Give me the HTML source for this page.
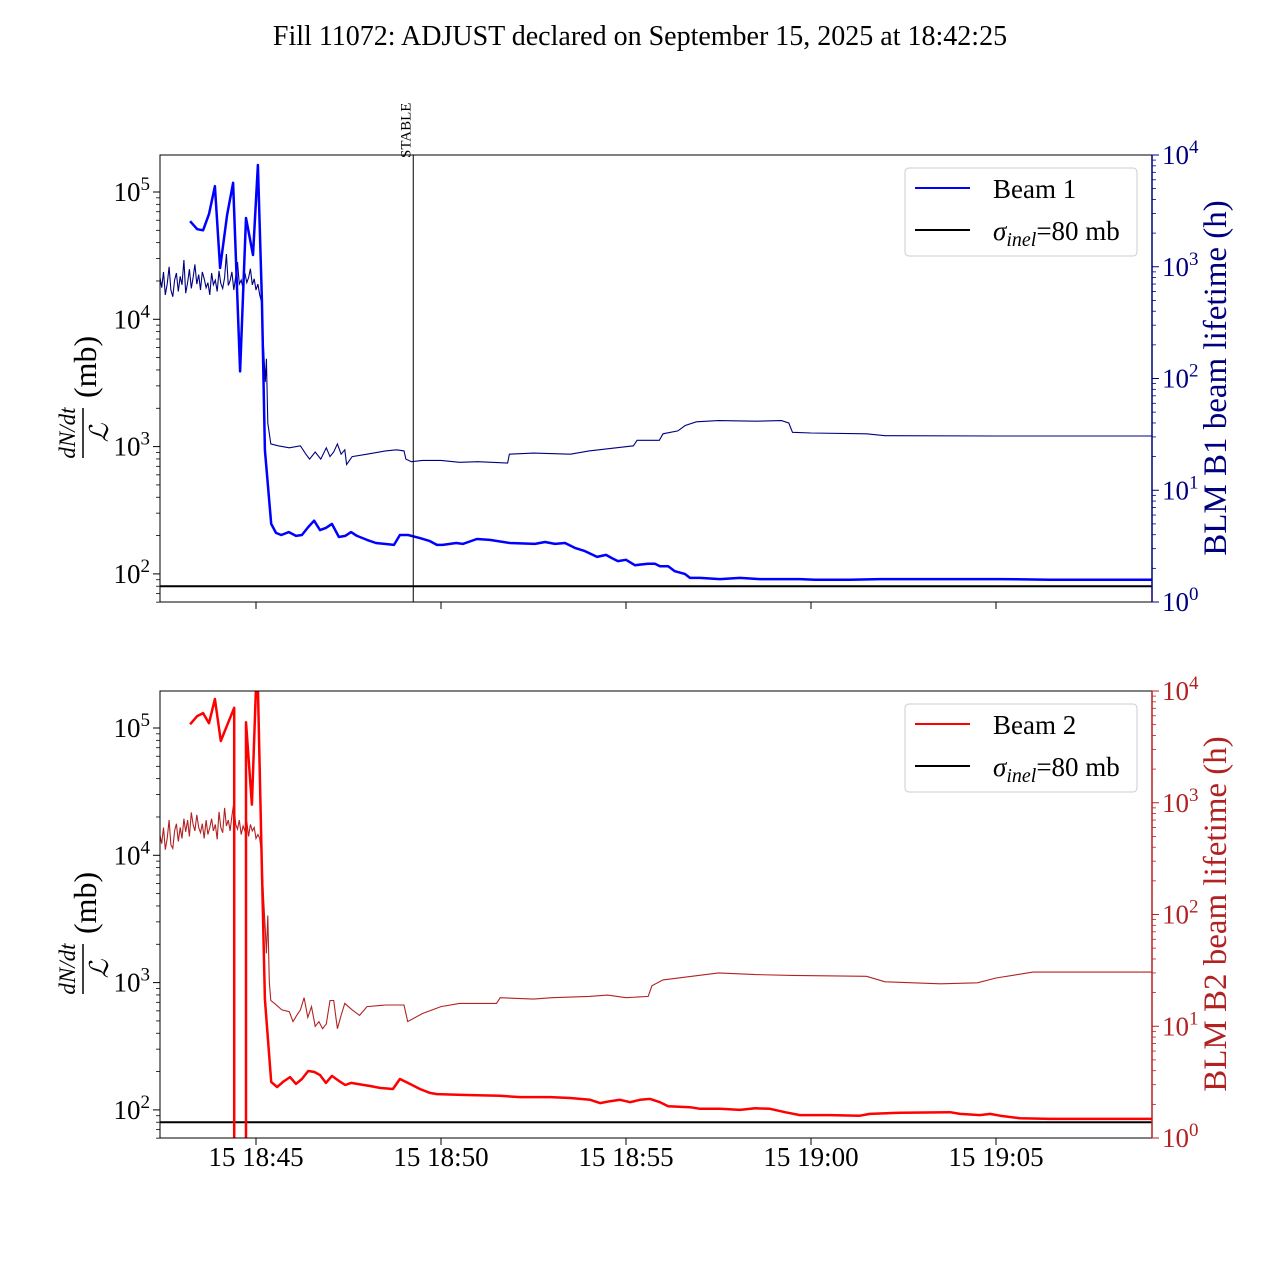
<!DOCTYPE html>
<html><head><meta charset="utf-8"><style>
html,body{margin:0;padding:0;background:#fff;overflow:hidden;width:1280px;height:1280px;}
svg{display:block;font-family:"Liberation Serif",serif;}
</style></head><body>
<svg id="chart" width="1280" height="1280" viewBox="0 0 1280 1280" xmlns="http://www.w3.org/2000/svg">
<text x="640" y="45" font-size="28" text-anchor="middle">Fill 11072: ADJUST declared on September 15, 2025 at 18:42:25</text>
</svg>
<script>
// times in minutes relative to 18:45:00
const xTickLabels = ["15 18:45","15 18:50","15 18:55","15 19:00","15 19:05"];
const xTickTimes = [0,5,10,15,20];
const stableTime = 4.25;
const sigmaInel = 80;

const b1Times = [-1.78,-1.59,-1.43,-1.27,-1.11,-0.97,-0.78,-0.62,-0.43,-0.27,-0.08,0.05,0.16,0.24,0.41,0.54,0.68,0.89,1.08,1.24,1.41,1.57,1.73,1.89,2.05,2.24,2.41,2.57,2.73,3.0,3.24,3.73,3.89,4.11,4.43,4.70,4.89,5.05,5.24,5.41,5.59,5.97,6.32,6.86,7.54,7.81,8.08,8.35,8.62,8.89,9.22,9.46,9.62,9.78,10.0,10.24,10.59,10.78,10.92,11.14,11.32,11.59,11.73,12.0,12.54,13.08,13.62,14.16,14.70,15.11,16.05,16.86,17.41,18.76,20.11,21.46,22.81,24.22];
const b1Values = [59000,51000,50000,67000,111000,25300,66000,118000,3900,62500,32000,163000,14200,940,247,210,202,213,199,202,233,262,221,230,247,195,199,213,199,185,175,169,202,202,191,181,169,169,172,175,172,188,185,175,172,178,172,175,160,151,136,141,133,126,129,117,120,120,115,115,105,100,93,93,91,93,91,91,91,90,90,91,91,91,91,90,90,90];

const b2Times = [-1.78,-1.59,-1.43,-1.27,-1.11,-0.95,-0.78,-0.59,-0.59,-0.27,-0.27,-0.11,0,0.05,0.16,0.24,0.41,0.57,0.73,0.92,1.08,1.24,1.41,1.57,1.73,1.89,2.05,2.24,2.41,2.57,2.73,3.08,3.35,3.70,3.89,4.16,4.43,4.70,4.89,5.68,6.59,7.14,7.95,8.49,9.03,9.30,9.57,9.84,10.11,10.38,10.65,10.92,11.14,11.73,12.0,12.54,13.08,13.49,13.89,14.30,14.70,15.51,16.32,16.59,17.41,18.76,19.03,19.57,19.84,20.11,20.65,21.46,22.81,24.22];
const b2Values = [107000,124000,131000,109000,169000,79000,105000,144000,1,1,111000,25000,3000000,3000000,7800,740,166,151,166,181,160,175,202,199,188,163,185,169,157,163,160,154,149,146,175,160,146,136,133,131,129,126,126,124,120,113,117,120,115,120,122,115,107,105,102,102,100,103,102,96,91,91,90,93,95,96,93,91,93,90,86,85,85,85];

const lt1Times = [-2.6,-2.55,-2.5,-2.45,-2.4,-2.35,-2.3,-2.25,-2.2,-2.15,-2.1,-2.05,-2.0,-1.95,-1.9,-1.85,-1.8,-1.75,-1.7,-1.65,-1.6,-1.55,-1.5,-1.45,-1.4,-1.35,-1.3,-1.25,-1.2,-1.15,-1.1,-1.05,-1.0,-0.95,-0.9,-0.85,-0.8,-0.75,-0.7,-0.65,-0.6,-0.55,-0.5,-0.45,-0.4,-0.35,-0.3,-0.25,-0.2,-0.15,-0.1,-0.05,0.0,0.05,0.1,0.15,0.2,0.25,0.28,0.32,0.4,0.6,0.9,1.2,1.35,1.45,1.6,1.75,1.9,2.0,2.1,2.2,2.3,2.4,2.45,2.6,3.0,3.5,3.8,4.0,4.05,4.2,4.5,5.0,5.5,6.0,6.8,6.85,7.5,8.5,9.0,9.5,10.2,10.3,10.9,11.0,11.4,11.6,11.9,12.5,13.5,14.2,14.4,14.5,15.0,16.5,17.0,20.0,24.22];
const lt1Values = [820,650,900,560,700,1000,620,540,760,880,600,820,690,1150,580,720,950,640,800,1050,700,850,620,900,780,650,720,560,880,690,760,600,920,710,640,800,1300,680,750,900,620,820,1100,700,760,640,880,720,800,960,690,780,620,700,560,480,200,93,150,40,26,25,24,25,21,19,22,19,24,20,22,26,21,23,17,20,21,22.5,23,22.5,19,18,18.5,18.5,17.8,18,17.5,21,21.5,21,22.5,23.5,25,28,28,32,34,38,41,42,41.5,42,40,33,32.5,32,30.8,30.6,30.6];

const lt2Times = [-2.6,-2.55,-2.5,-2.45,-2.4,-2.35,-2.3,-2.25,-2.2,-2.15,-2.1,-2.05,-2.0,-1.95,-1.9,-1.85,-1.8,-1.75,-1.7,-1.65,-1.6,-1.55,-1.5,-1.45,-1.4,-1.35,-1.3,-1.25,-1.2,-1.15,-1.1,-1.05,-1.0,-0.95,-0.9,-0.85,-0.8,-0.75,-0.7,-0.65,-0.6,-0.55,-0.5,-0.45,-0.4,-0.35,-0.3,-0.25,-0.2,-0.15,-0.1,-0.05,0.0,0.05,0.1,0.15,0.2,0.25,0.28,0.32,0.36,0.4,0.5,0.7,0.9,1.0,1.1,1.2,1.3,1.4,1.5,1.6,1.7,1.8,1.9,2.0,2.1,2.2,2.3,2.4,2.6,2.8,3.0,3.5,4.0,4.1,4.5,5.0,5.5,6.5,6.6,7.5,8.0,9.0,9.5,10.0,10.6,10.7,11.0,12.5,13.5,14.5,16.5,17.0,18.5,19.5,20.0,21.0,24.22];
const lt2Values = [520,430,600,380,480,700,420,390,560,650,450,600,480,720,550,700,500,820,640,560,780,600,540,650,480,700,520,600,720,560,640,470,830,600,540,900,620,700,560,760,1000,640,580,700,520,620,560,680,500,640,560,600,480,520,480,350,150,73,45,98,25,17,16,14,13.5,11,12.5,14,18,12,15,10,11,9.5,10.5,17,17,9.5,12.5,16,14,12.5,15,15.5,15.5,11,13,15,16,16,18,17.5,18,18.5,19,18,18.5,23,26,30,29,28.5,28,25,24,24.5,27,30.5,30.5];

const NS="http://www.w3.org/2000/svg";
const svg=document.getElementById('chart');
const X0=160,X1=1152;
function xs(t){return 256+37*t;}
function mk(tag,attrs,parent){const e=document.createElementNS(NS,tag);for(const k in attrs)e.setAttribute(k,attrs[k]);(parent||svg).appendChild(e);return e;}

function panel(top,times,vals,ltT,ltV,mainColor,ltColor,clipId,beamLabel,rightLabel,showX,showStable){
  const bot=top+447;
  const clampY=y=>Math.max(top-4,Math.min(bot+4,y));
  const yl=v=>clampY(top+37-(Math.log10(v)-5)*127.3);
  const yr=v=>clampY(bot-Math.log10(v)*111.75);
  const g=mk('g',{});  
  const defs=mk('defs',{},g); const cp=mk('clipPath',{id:clipId},defs); mk('rect',{x:X0,y:top,width:X1-X0,height:447},cp);
  const hl=mk('line',{x1:X0,x2:X1,y1:yl(sigmaInel),y2:yl(sigmaInel),stroke:'#000','stroke-width':2},g);
   
  let d=ltT.map((t,i)=>(i?'L':'M')+xs(t).toFixed(1)+','+yr(ltV[i]).toFixed(1)).join('');
  const lp=mk('path',{d:d,fill:'none',stroke:ltColor,'stroke-width':1.1,'clip-path':'url(#'+clipId+')'},g);
   
  d=times.map((t,i)=>(i?'L':'M')+xs(t).toFixed(1)+','+yl(vals[i]).toFixed(1)).join('');
  const mp=mk('path',{d:d,fill:'none',stroke:mainColor,'stroke-width':2.5,'stroke-linejoin':'round','clip-path':'url(#'+clipId+')'},g);
   
  if(showStable){
    const sx=xs(stableTime);
    const sl=mk('line',{x1:sx,x2:sx,y1:top,y2:bot,stroke:'#000','stroke-width':1},g);
     
    const st=mk('text',{x:0,y:0,'font-size':15,transform:`translate(${sx-3},${top+3}) rotate(-90)`},g);
    st.textContent='STABLE';  
  }
  mk('rect',{x:X0,y:top,width:X1-X0,height:447,fill:'none',stroke:'#000','stroke-width':1},g);
  mk('line',{x1:X1,x2:X1,y1:top,y2:bot,stroke:ltColor,'stroke-width':1.5},g);
  for(let e=1;e<=5;e++){for(let m=1;m<10;m++){const v=m*Math.pow(10,e);const yRaw=top+37-(Math.log10(v)-5)*127.3;if(yRaw<top-0.5||yRaw>bot+0.5)continue;const y=yRaw;
    mk('line',{x1:X0,x2:X0-(m==1?7:4),y1:y,y2:y,stroke:'#000','stroke-width':m==1?1:0.8},g);
    if(m==1){const t=mk('text',{x:X0-10,y:y+9,'font-size':27,'text-anchor':'end'},g);t.innerHTML='10<tspan dy="-11" font-size="19">'+e+'</tspan>';
       }}}
  for(let e=0;e<=4;e++){for(let m=1;m<10;m++){if(e==4&&m>1)break;const v=m*Math.pow(10,e);const y=yr(v);
    mk('line',{x1:X1,x2:X1+(m==1?7:4),y1:y,y2:y,stroke:ltColor,'stroke-width':m==1?1:0.8},g);
    if(m==1){const t=mk('text',{x:X1+10,y:y+9,'font-size':27,fill:ltColor},g);t.innerHTML='10<tspan dy="-11" font-size="19">'+e+'</tspan>';
       }}}
  xTickTimes.forEach((tt,i)=>{const x=xs(tt);mk('line',{x1:x,x2:x,y1:bot,y2:bot+7,stroke:'#000','stroke-width':1},g);
    if(showX){const t=mk('text',{x:x,y:bot+28,'font-size':27,'text-anchor':'middle'},g);t.textContent=xTickLabels[i];
       }});
  const cy=top+223;
  const ll=mk('g',{transform:`translate(92,${cy}) rotate(-90)`},g);
   
  mk('text',{x:-55,y:-17,'font-size':23,'font-style':'italic','text-anchor':'middle'},ll).textContent='dN/dt';
  mk('line',{x1:-80,x2:-30,y1:-9,y2:-9,stroke:'#000','stroke-width':1.5},ll);
  mk('text',{x:-55,y:16,'font-size':26,'font-style':'italic','text-anchor':'middle'},ll).textContent='ℒ';
  mk('text',{x:-20,y:4,'font-size':32},ll).textContent='(mb)';
  const rl=mk('text',{x:0,y:0,'font-size':33,fill:ltColor,'text-anchor':'middle',transform:`translate(1226,${cy}) rotate(-90)`},g);
  rl.textContent=rightLabel;  
  const lg=mk('g',{},g);  
  mk('rect',{x:905,y:top+13,width:232,height:88,rx:4,fill:'#fff',stroke:'#ccc','stroke-width':1},lg);
  mk('line',{x1:915,x2:970,y1:top+33,y2:top+33,stroke:mainColor,'stroke-width':2},lg);
  mk('text',{x:993,y:top+43,'font-size':27},lg).textContent=beamLabel;
  mk('line',{x1:915,x2:970,y1:top+75,y2:top+75,stroke:'#000','stroke-width':2},lg);
  const s=mk('text',{x:993,y:top+85,'font-size':27},lg);
  s.innerHTML='<tspan font-style="italic">σ</tspan><tspan font-style="italic" font-size="20" dy="6">inel</tspan><tspan dy="-6">=80 mb</tspan>';
}
panel(155,b1Times,b1Values,lt1Times,lt1Values,'#0000ff','#00007f','clip1','Beam 1','BLM B1 beam lifetime (h)',false,true);
panel(691,b2Times,b2Values,lt2Times,lt2Values,'#ff0000','#b22222','clip2','Beam 2','BLM B2 beam lifetime (h)',true,false);
</script>
</body></html>
